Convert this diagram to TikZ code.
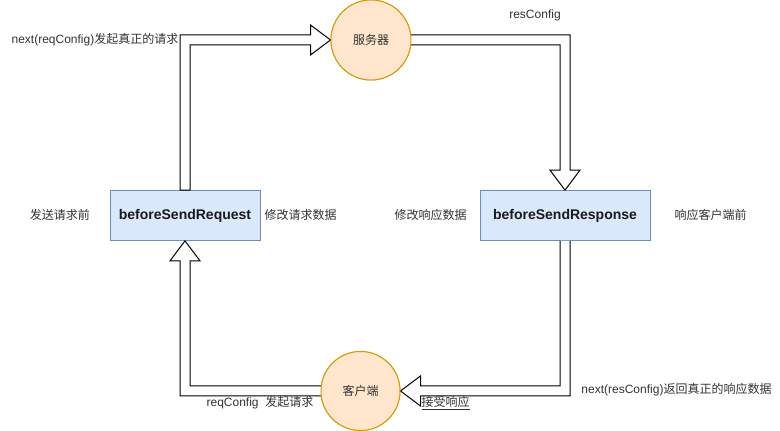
\documentclass[tikz,border=0pt]{standalone}
\usepackage{fontspec}
\setmainfont{Liberation Sans}
\newfontfamily\cjk{Noto Sans CJK SC}
\usetikzlibrary{calc}
\definecolor{srvfill}{HTML}{FFE6CC}
\definecolor{srvdraw}{HTML}{D79B00}
\definecolor{boxfill}{HTML}{DAE8FC}
\definecolor{boxdraw}{HTML}{6C8EBF}
\definecolor{txt}{HTML}{333333}
\begin{document}
\begin{tikzpicture}[x=1pt,y=1pt,
  circ/.style={circle,draw=srvdraw,fill=srvfill,line width=1pt,inner sep=0pt,text=txt,font=\fontsize{12}{14}\selectfont\cjk},
  hook/.style={draw=boxdraw,fill=boxfill,line width=0.8pt,inner sep=0pt,font=\fontsize{14}{16}\selectfont\bfseries,text=black!90},
  lbl/.style={inner sep=0pt,text=txt,font=\fontsize{12}{14}\selectfont},
  flex/.style={draw=black,fill=white,line width=1pt,line join=miter}]
\useasboundingbox (0,0) rectangle (780,431);
% nodes
\node[circ,minimum size=80pt] (srv) at (371,391) {服务器};
\node[circ,minimum size=79pt] (cli) at (360.5,40) {客户端};
\node[hook,minimum width=150pt,minimum height=50pt] (req) at (185,215.5) {beforeSendRequest};
\node[hook,minimum width=170pt,minimum height=50pt] (resp) at (565,215.5) {beforeSendResponse};
% flex arrows
\draw[flex] ($(req.north)+(-5,0)$) |- ($(srv.west)+(-20,5)$) -- ++(0,10) -- (srv.west)
  -- ($(srv.west)+(-20,-15)$) -- ++(0,10) -| ($(req.north)+(5,0)$) -- cycle;
\draw[flex] ($(srv.east)+(-1,5)$) -| ($(resp.north)+(5,20)$) -- ++(10,0) -- (resp.north)
  -- ($(resp.north)+(-15,20)$) -- ++(10,0) |- ($(srv.east)+(-1,-5)$);
\draw[flex] ($(resp.south)+(5,0)$) |- ($(cli.east)+(20,-5)$) -- ++(0,-10) -- (cli.east)
  -- ($(cli.east)+(20,15)$) -- ++(0,-10) -| ($(resp.south)+(-5,0)$);
\draw[flex] ($(cli.west)+(1,-5)$) -| ($(req.south)+(-5,-20)$) -- ++(-10,0) -- (req.south)
  -- ($(req.south)+(15,-20)$) -- ++(-10,0) |- ($(cli.west)+(1,5)$);
% redraw circles on top of arrow ends
\node[circ,minimum size=80pt] at (srv) {服务器};
\node[circ,minimum size=79pt] at (cli) {客户端};
% labels
\node[lbl,anchor=east] (l1) at (178.5,391) {next(reqConfig){\cjk 发起真正的请求}};
\node[lbl] (l2) at (535,415.5) {resConfig};
\node[lbl] (l3) at (60,216) {\cjk 发送请求前};
\node[lbl] (l4) at (300.5,216) {\cjk 修改请求数据};
\node[lbl] (l5) at (430.5,216) {\cjk 修改响应数据};
\node[lbl] (l6) at (710.5,216) {\cjk 响应客户端前};
\node[lbl] (l7) at (260,28) {reqConfig\ \ {\cjk 发起请求}};
\node[lbl] (l8) at (445.5,28) {\cjk\underline{接受响应}};
\node[lbl] (l9) at (676.5,41) {next(resConfig){\cjk 返回真正的响应数据}};
\end{tikzpicture}
\end{document}
